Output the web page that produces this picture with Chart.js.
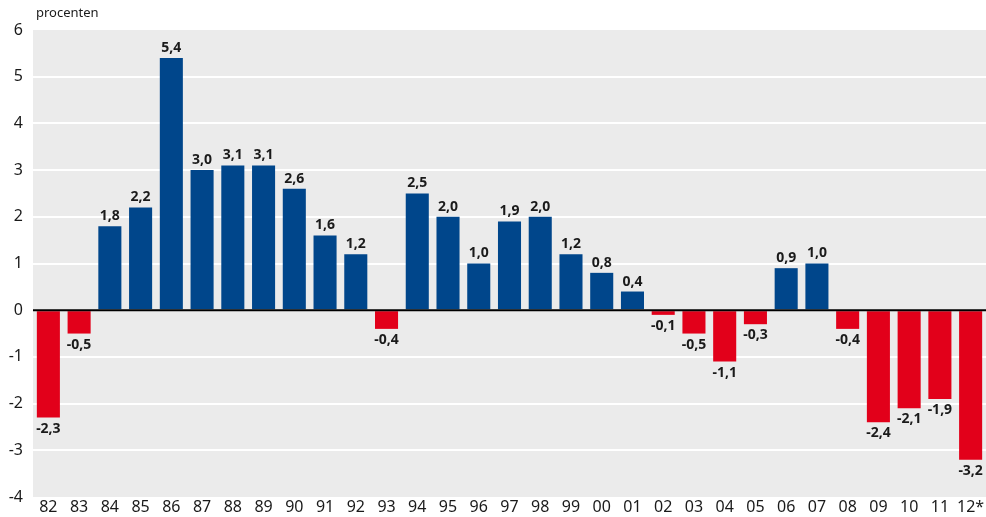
<!DOCTYPE html>
<html>
<head>
<meta charset="utf-8">
<script src="https://cdn.jsdelivr.net/npm/chart.js@4"></script>
<style>
  html, body { margin: 0; padding: 0; background: #fff; }
  #wrap { width: 986px; height: 517px; position: relative; }
</style>
</head>
<body>
<div id="wrap"><canvas id="myChart"></canvas></div>
<script>
// years on the x axis
const years = ["82", "83", "84", "85", "86", "87", "88", "89", "90", "91", "92", "93", "94", "95", "96", "97",
  "98", "99", "00", "01", "02", "03", "04", "05", "06", "07", "08", "09", "10", "11", "12*"];
// yearly change, in percent
const values = [-2.3, -0.5, 1.8, 2.2, 5.4, 3.0, 3.1, 3.1, 2.6, 1.6, 1.2, -0.4, 2.5, 2.0, 1.0, 1.9,
  2.0, 1.2, 0.8, 0.4, -0.1, -0.5, -1.1, -0.3, 0.9, 1.0, -0.4, -2.4, -2.1, -1.9, -3.2];
const yTicks = [-4, -3, -2, -1, 0, 1, 2, 3, 4, 5, 6];

const BLUE = "#00468b";
const RED = "#e2001a";
const tickFont = "'Noto Sans', 'Open Sans', sans-serif";
const labelFont = "'Liberation Sans Narrow', 'Noto Sans', sans-serif";

// grey plot background, black zero line, value labels and unit text
const decorations = {
  id: "decorations",
  beforeDraw(chart) {
    const { ctx, chartArea: a } = chart;
    ctx.save();
    ctx.fillStyle = "#ebebeb";
    ctx.fillRect(a.left, a.top, a.right - a.left, a.bottom - a.top);
    ctx.restore();
  },
  afterDatasetsDraw(chart) {
    const { ctx, chartArea: a, scales } = chart;
    const y0 = scales.y.getPixelForValue(0);
    ctx.save();
    ctx.strokeStyle = "#000";
    ctx.lineWidth = 2;
    ctx.beginPath();
    ctx.moveTo(a.left, y0);
    ctx.lineTo(a.right, y0);
    ctx.stroke();

    ctx.fillStyle = "#1a1a1a";
    ctx.font = "bold 14px " + labelFont;
    ctx.textAlign = "center";
    const meta = chart.getDatasetMeta(0);
    meta.data.forEach((bar, i) => {
      const v = values[i];
      const text = v.toFixed(1).replace(".", ",");
      if (v >= 0) {
        ctx.textBaseline = "bottom";
        ctx.fillText(text, bar.x, bar.y - 3);
      } else {
        ctx.textBaseline = "top";
        ctx.fillText(text, bar.x, bar.y + 4);
      }
    });

    ctx.font = "13px " + tickFont;
    ctx.textAlign = "left";
    ctx.textBaseline = "middle";
    ctx.fillText("procenten", a.left + 3, 13);
    ctx.restore();
  },
};

new Chart(document.getElementById("myChart"), {
  type: "bar",
  data: {
    labels: years,
    datasets: [
      {
        data: values,
        backgroundColor: values.map((v) => (v < 0 ? RED : BLUE)),
        borderWidth: 0,
        categoryPercentage: 1,
        barPercentage: 0.75,
      },
    ],
  },
  options: {
    responsive: true,
    maintainAspectRatio: false,
    animation: false,
    layout: { padding: { top: 30, right: 0, left: 0, bottom: 0 } },
    plugins: { legend: { display: false }, tooltip: { enabled: false } },
    scales: {
      x: {
        grid: { display: false, drawTicks: false, tickLength: 0 },
        border: { display: false },
        ticks: { color: "#1a1a1a", font: { family: tickFont, size: 16 }, padding: 1, maxRotation: 0, autoSkip: false },
        afterFit: (scale) => { scale.height = 20; },
      },
      y: {
        min: -4,
        max: 6,
        afterBuildTicks: (scale) => { scale.ticks = yTicks.map((v) => ({ value: v })); },
        afterFit: (scale) => { scale.width = 33; },
        border: { display: false },
        grid: {
          drawTicks: false,
          lineWidth: 2,
          color: (c) => (c.tick.value === -4 || c.tick.value === 6 || c.tick.value === 0 ? "rgba(0,0,0,0)" : "#fff"),
        },
        ticks: { color: "#1a1a1a", font: { family: tickFont, size: 16 }, padding: 10 },
      },
    },
  },
  plugins: [decorations],
});
</script>
</body>
</html>
